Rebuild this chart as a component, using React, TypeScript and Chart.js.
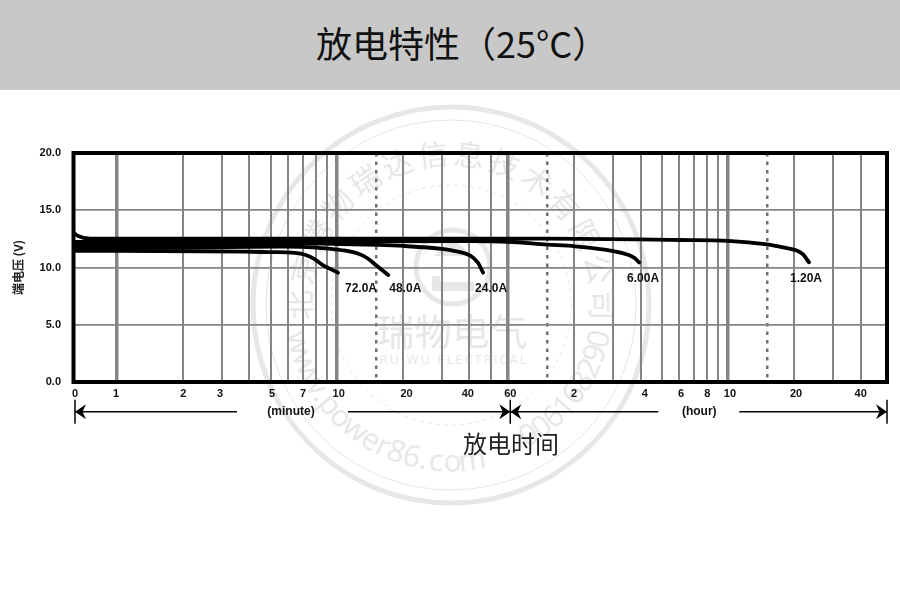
import React, { useEffect, useRef } from "react";
import { Chart, registerables } from "chart.js";

Chart.register(...registerables);

// Vertical grid positions, all in minutes on one log axis
const gridMinutes = [1, 2, 3, 4, 5, 6, 7, 8, 9, 10, 15, 20, 30, 40, 50, 60, 90, 120, 180, 240, 300, 360, 420, 480, 540, 600, 900, 1200, 1800, 2400];
const thickMinutes = [1, 10, 60, 600];
const dashedMinutes = [15, 90, 900];
const yTicks = [0, 5, 10, 15, 20];
const xTickLabels = ["0", "1", "2", "3", "5", "7", "10", "20", "40", "60", "2", "4", "6", "8", "10", "20", "40"];
const xTickLabelMinutes = [0.644, 0.99, 2.0, 2.94, 5.06, 7.0, 10.18, 20.7, 39.3, 61.3, 119.5, 250.4, 366, 482, 611, 1220, 2402];

const t120 = [0.638, 0.665, 0.754, 20, 90, 236, 362, 599, 900, 1065, 1230, 1313, 1398];
const v120 = [13.01, 12.75, 12.53, 12.53, 12.52, 12.46, 12.4, 12.32, 12.01, 11.76, 11.48, 11.14, 10.45];
const t600 = [0.638, 5.51, 40.2, 60, 90, 120.7, 179.7, 214.7, 226, 236];
const v600 = [12.24, 12.26, 12.31, 12.25, 12.0, 11.85, 11.44, 11.05, 10.8, 10.44];
const t240 = [0.638, 3.82, 6.44, 15.4, 20, 30, 34.4, 40.2, 43.8, 46.1];
const v240 = [11.99, 12.0, 12.11, 11.97, 11.88, 11.62, 11.43, 11.05, 10.39, 9.55];
const t480 = [0.638, 1.41, 2.38, 5.51, 8.55, 10.9, 12.5, 13.7, 15.2, 17.1];
const v480 = [11.72, 11.72, 11.76, 11.82, 11.7, 11.47, 11.2, 10.83, 10.13, 9.34];
const t720 = [0.638, 2.38, 3.82, 4.96, 6.44, 7.15, 7.87, 8.55, 10.1];
const v720 = [11.46, 11.42, 11.38, 11.35, 11.27, 11.11, 10.75, 10.25, 9.55];

const seriesNames = ["1.20A", "6.00A", "24.0A", "48.0A", "72.0A"];
const seriesTimes = [t120, t600, t240, t480, t720];
const seriesVolts = [v120, v600, v240, v480, v720];
const labelOffsets = [[-3, 16], [4, 16], [8, 16], [17, 14], [23, 16]];

const sealTop = "北京腾物瑞达信息技术有限公司";
const sealWeb = "www.power86.com";
const sealTel = "006168290";
const LATIN = "'Liberation Sans', Arial, sans-serif";
const CJK = "'Noto Sans CJK SC', sans-serif";

const SEAL = "#e7e7e7";
const CX = 451;
const CY = 305;

const charWeight = (c: string) => (c === "." ? 0.5 : c === "w" ? 1.3 : c === "m" ? 1.4 : c === "r" ? 0.7 : 1);

function arcChars(text: string, r: number, a0: number, a1: number, size: number, inward: boolean, family: string) {
  const chars = Array.from(text);
  const total = chars.reduce((s, c) => s + charWeight(c), 0);
  let run = 0;
  return chars.map((ch, i) => {
    const w = charWeight(ch);
    const a = a0 + ((a1 - a0) * (run + w / 2)) / total;
    run += w;
    const rad = (a * Math.PI) / 180;
    const x = CX + r * Math.cos(rad);
    const y = CY + r * Math.sin(rad);
    const rot = inward ? a - 90 : a + 90;
    return (
      <text key={i} x={0} y={0} transform={`translate(${x} ${y}) rotate(${rot})`} textAnchor="middle" dominantBaseline="central" fontSize={size} fontFamily={family} fill={SEAL}>
        {ch}
      </text>
    );
  });
}

function Seal() {
  return (
    <svg width={900} height={609} style={{ position: "absolute", left: 0, top: 0 }}>
      <circle cx={CX} cy={CY} r={198} fill="none" stroke={SEAL} strokeWidth={5} />
      <circle cx={CX} cy={CY} r={185} fill="none" stroke={SEAL} strokeWidth={1} />
      <circle cx={CX} cy={CY} r={120} fill="none" stroke={SEAL} strokeWidth={1} strokeDasharray="4 4" />
      <circle cx={453} cy={267} r={37} fill="none" stroke={SEAL} strokeWidth={5} />
      <path d="M453 238 L472 256 L434 256 Z" fill={SEAL} />
      <path d="M432 276 h8 v6 h34 v9 h-42 Z" fill={SEAL} />
      {arcChars(sealTop, 153, 173, 367, 30, false, CJK)}
      {arcChars(sealWeb, 155, 170, 78, 30, true, "'Open Sans', sans-serif")}
      {arcChars(sealTel, 150, 62, 10, 30, true, "'Open Sans', sans-serif")}
      <text x={452} y={346} textAnchor="middle" fontSize={37} fontFamily={CJK} fill={SEAL} textLength={150}>瑞物电气</text>
      <text x={453} y={364} textAnchor="middle" fontSize={13} fontFamily="'Open Sans', sans-serif" fill={SEAL} textLength={147}>RUIWU ELECTRICAL</text>
    </svg>
  );
}

const framePlugin = {
  id: "frame",
  afterDatasetsDraw(chart: any) {
    const { ctx, chartArea: a } = chart;
    ctx.save();
    ctx.strokeStyle = "#000";
    ctx.lineWidth = 4;
    ctx.strokeRect(a.left, a.top, a.right - a.left, a.bottom - a.top);
    ctx.restore();
  },
};

const curveLabelPlugin = {
  id: "curveLabels",
  afterDraw(chart: any) {
    const { ctx, scales } = chart;
    ctx.save();
    ctx.font = `bold 12px ${LATIN}`;
    ctx.fillStyle = "#111";
    ctx.textAlign = "center";
    ctx.textBaseline = "middle";
    seriesNames.forEach((name, i) => {
      const ts = seriesTimes[i];
      const vs = seriesVolts[i];
      const px = scales.x.getPixelForValue(ts[ts.length - 1]);
      const py = scales.y.getPixelForValue(vs[vs.length - 1]);
      ctx.fillText(name, px + labelOffsets[i][0], py + labelOffsets[i][1]);
    });
    ctx.restore();
  },
};

function head(ctx: any, x: number, y: number, dir: number) {
  ctx.beginPath();
  ctx.moveTo(x, y);
  ctx.lineTo(x + dir * 11, y - 7.5);
  ctx.lineTo(x + dir * 7.5, y);
  ctx.lineTo(x + dir * 11, y + 7.5);
  ctx.closePath();
  ctx.fill();
}

const spanPlugin = {
  id: "spans",
  afterDraw(chart: any) {
    const { ctx, scales, chartArea } = chart;
    const y = chartArea.bottom + 29.7;
    const x0 = scales.x.getPixelForValue(xTickLabelMinutes[0]);
    const x1 = scales.x.getPixelForValue(xTickLabelMinutes[9]);
    const x2 = chartArea.right;
    const segs = [[x0, x0 + 162], [x0 + 273, x1], [x1, x1 + 148], [x1 + 229, x2]];
    ctx.save();
    ctx.strokeStyle = "#000";
    ctx.fillStyle = "#000";
    ctx.lineWidth = 1.5;
    ctx.beginPath();
    segs.forEach(([a, b]) => {
      ctx.moveTo(a, y);
      ctx.lineTo(b, y);
    });
    [x0, x1, x2].forEach((x) => {
      ctx.moveTo(x, y - 12);
      ctx.lineTo(x, y + 12);
    });
    ctx.stroke();
    head(ctx, x0, y, 1);
    head(ctx, x1, y, -1);
    head(ctx, x1, y, 1);
    head(ctx, x2, y, -1);
    ctx.font = `bold 12px ${LATIN}`;
    ctx.fillStyle = "#111";
    ctx.textAlign = "center";
    ctx.textBaseline = "middle";
    ctx.fillText("(minute)", x0 + 216, y);
    ctx.fillText("(hour)", x1 + 189, y);
    ctx.restore();
  },
};

const noPad = (s: any) => {
  s.paddingLeft = 0;
  s.paddingRight = 0;
};

export default function App() {
  const ref = useRef<HTMLCanvasElement>(null);

  useEffect(() => {
    const chart = new Chart(ref.current as HTMLCanvasElement, {
      type: "line",
      data: {
        datasets: seriesNames.map((name, i) => ({
          label: name,
          data: seriesTimes[i].map((t, j) => ({ x: t, y: seriesVolts[i][j] })),
          borderColor: "#000",
          borderWidth: 3.8,
          borderCapStyle: "round",
          borderJoinStyle: "round",
          pointRadius: 0,
          cubicInterpolationMode: "monotone",
          fill: false,
        })),
      },
      options: {
        animation: false,
        responsive: false,
        devicePixelRatio: 1,
        layout: { padding: { left: 0, top: 153, right: 13, bottom: 197 } },
        plugins: { legend: { display: false }, tooltip: { enabled: false }, title: { display: false } },
        scales: {
          x: {
            type: "logarithmic",
            position: "bottom",
            bounds: "data",
            min: 0.634,
            max: 3162,
            afterBuildTicks: (s: any) => {
              s.ticks = gridMinutes.map((value) => ({ value }));
            },
            afterFit: (s: any) => {
              s.height = 0;
              noPad(s);
            },
            ticks: { display: false, autoSkip: false },
            border: {
              display: false,
              dash: (c: any) => (dashedMinutes.includes(c.tick?.value) ? [3.5, 5] : []),
            },
            grid: {
              drawTicks: false,
              color: (c: any) => (dashedMinutes.includes(c.tick?.value) ? "#707070" : "#858585"),
              lineWidth: (c: any) => (thickMinutes.includes(c.tick?.value) ? 3.5 : dashedMinutes.includes(c.tick?.value) ? 2.5 : 2),
            },
          },
          xLabels: {
            type: "logarithmic",
            position: "bottom",
            bounds: "data",
            min: 0.634,
            max: 3162,
            afterBuildTicks: (s: any) => {
              s.ticks = xTickLabelMinutes.map((value) => ({ value }));
            },
            afterFit: (s: any) => {
              s.height = 30;
              noPad(s);
            },
            grid: { display: false, drawTicks: false },
            border: { display: false },
            ticks: {
              autoSkip: false,
              maxRotation: 0,
              minRotation: 0,
              padding: 5,
              color: "#111",
              font: { family: LATIN, size: 11, weight: "bold" },
              callback: (_v: any, i: number) => xTickLabels[i],
            },
          },
          y: {
            min: 0,
            max: 20,
            afterBuildTicks: (s: any) => {
              s.ticks = yTicks.map((value) => ({ value }));
            },
            afterFit: (s: any) => {
              s.width = 73.5;
            },
            title: {
              display: true,
              text: "端电压 (V)",
              color: "#222",
              font: { family: CJK, size: 12, weight: "bold" },
              padding: { top: 11, bottom: 0 },
            },
            border: { display: false },
            grid: { drawTicks: false, color: "#858585", lineWidth: 1.7 },
            ticks: {
              padding: 12.5,
              color: "#111",
              font: { family: LATIN, size: 11, weight: "bold" },
              callback: (v: any) => Number(v).toFixed(1),
            },
          },
        },
      },
      plugins: [framePlugin, curveLabelPlugin, spanPlugin],
    } as any);
    return () => chart.destroy();
  }, []);

  return (
    <div style={{ position: "absolute", left: 0, top: 0, width: 900, height: 609, background: "#fff", overflow: "hidden" }}>
      <Seal />
      <div style={{ position: "absolute", left: 0, top: 0, width: 900, height: 90, background: "#c8c8c8" }} />
      <div style={{ position: "absolute", left: 316, top: 42, transform: "translateY(-50%)", fontFamily: CJK, fontSize: 36, color: "#111", whiteSpace: "nowrap", lineHeight: 1 }}>
        放电特性（25°C）
      </div>
      <canvas ref={ref} width={900} height={609} style={{ position: "absolute", left: 0, top: 0, width: 900, height: 609 }} />
      <div style={{ position: "absolute", left: 463, top: 443, transform: "translateY(-50%)", fontFamily: CJK, fontSize: 24, color: "#222", whiteSpace: "nowrap", lineHeight: 1 }}>
        放电时间
      </div>
    </div>
  );
}
